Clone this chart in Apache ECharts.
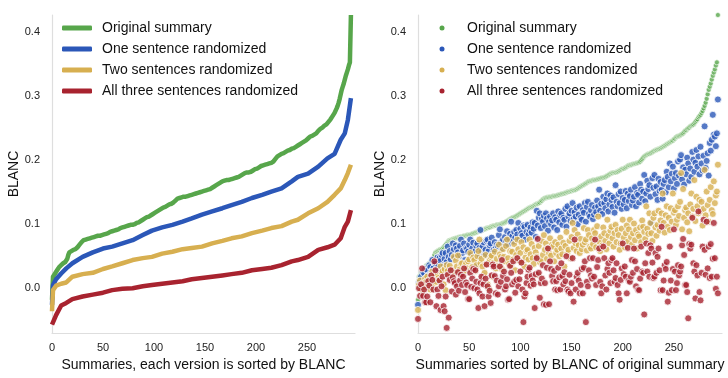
<!DOCTYPE html>
<html>
<head>
<meta charset="utf-8">
<script src="https://cdn.jsdelivr.net/npm/echarts@6.0.0/dist/echarts.min.js"></script>
<style>
  html, body { margin: 0; padding: 0; background: #fff; }
  #chart { width: 728px; height: 378px; }
</style>
</head>
<body>
<div id="chart"></div>
<script>
// series labels (same order in both panels)
const names = ['Original summary', 'One sentence randomized', 'Two sentences randomized', 'All three sentences randomized'];
const colors = ['#57a64b', '#2b57b8', '#d7af50', '#a8232f'];

const xTicks = [0, 50, 100, 150, 200, 250];
const yTicks = [0, 0.1, 0.2, 0.3, 0.4];

// BLANC of the original summaries, already in ascending order (index 0..293)
const original = [
  -0.018, 0.018, 0.020, 0.023, 0.026, 0.028, 0.031, 0.033, 0.035, 0.036,
  0.038, 0.039, 0.040, 0.041, 0.042, 0.046, 0.052, 0.056, 0.057, 0.058,
  0.059, 0.060, 0.061, 0.061, 0.062, 0.064, 0.066, 0.068, 0.070, 0.072,
  0.074, 0.075, 0.075, 0.076, 0.077, 0.077, 0.078, 0.078, 0.079, 0.079,
  0.080, 0.080, 0.081, 0.081, 0.081, 0.082, 0.082, 0.082, 0.083, 0.083,
  0.083, 0.084, 0.084, 0.085, 0.086, 0.086, 0.087, 0.088, 0.088, 0.089,
  0.089, 0.090, 0.091, 0.091, 0.092, 0.092, 0.093, 0.094, 0.094, 0.095,
  0.095, 0.096, 0.097, 0.097, 0.098, 0.098, 0.098, 0.099, 0.099, 0.099,
  0.100, 0.100, 0.101, 0.102, 0.102, 0.103, 0.104, 0.105, 0.106, 0.107,
  0.108, 0.109, 0.110, 0.111, 0.111, 0.112, 0.113, 0.114, 0.115, 0.116,
  0.117, 0.118, 0.119, 0.120, 0.121, 0.122, 0.123, 0.124, 0.125, 0.126,
  0.127, 0.127, 0.128, 0.129, 0.130, 0.131, 0.132, 0.132, 0.133, 0.134,
  0.136, 0.137, 0.139, 0.140, 0.141, 0.141, 0.142, 0.142, 0.142, 0.143,
  0.143, 0.143, 0.144, 0.144, 0.144, 0.145, 0.145, 0.146, 0.146, 0.147,
  0.147, 0.148, 0.148, 0.149, 0.149, 0.150, 0.150, 0.151, 0.151, 0.152,
  0.152, 0.153, 0.153, 0.154, 0.154, 0.155, 0.156, 0.157, 0.158, 0.159,
  0.160, 0.161, 0.162, 0.163, 0.164, 0.165, 0.166, 0.167, 0.167, 0.168,
  0.168, 0.169, 0.169, 0.169, 0.170, 0.170, 0.171, 0.171, 0.172, 0.172,
  0.173, 0.173, 0.174, 0.174, 0.175, 0.176, 0.177, 0.178, 0.179, 0.180,
  0.180, 0.181, 0.181, 0.181, 0.182, 0.182, 0.183, 0.184, 0.185, 0.186,
  0.187, 0.187, 0.188, 0.189, 0.190, 0.191, 0.192, 0.192, 0.193, 0.193,
  0.194, 0.194, 0.195, 0.195, 0.196, 0.196, 0.197, 0.198, 0.200, 0.202,
  0.204, 0.206, 0.207, 0.208, 0.209, 0.210, 0.210, 0.211, 0.212, 0.213,
  0.214, 0.215, 0.216, 0.216, 0.217, 0.218, 0.218, 0.219, 0.220, 0.221,
  0.222, 0.223, 0.224, 0.225, 0.226, 0.227, 0.228, 0.229, 0.230, 0.231,
  0.233, 0.234, 0.236, 0.237, 0.238, 0.238, 0.239, 0.240, 0.241, 0.242,
  0.244, 0.246, 0.247, 0.249, 0.250, 0.251, 0.253, 0.254, 0.255, 0.256,
  0.258, 0.260, 0.262, 0.264, 0.267, 0.269, 0.271, 0.274, 0.277, 0.281,
  0.285, 0.290, 0.296, 0.303, 0.310, 0.315, 0.320, 0.326, 0.332, 0.337,
  0.342, 0.348, 0.353, 0.427
];

// randomized versions, in the order of the original summaries
const oneRandom = [
  -0.026, 0.009, 0.012, 0.018, 0.006, 0.025, 0.023, 0.030, 0.015, 0.028,
  0.020, 0.036, 0.033, 0.026, 0.044, 0.031, 0.040, 0.039, 0.027, 0.048,
  0.035, 0.047, 0.043, 0.052, 0.055, 0.036, 0.046, 0.055, 0.041, 0.065,
  0.049, 0.058, 0.045, 0.052, 0.070, 0.061, 0.048, 0.067, 0.062, 0.056,
  0.050, 0.066, 0.076, 0.055, 0.059, 0.070, 0.044, 0.063, 0.062, 0.057,
  0.068, 0.076, 0.053, 0.062, 0.071, 0.034, 0.058, 0.066, 0.070, 0.049,
  0.063, 0.091, 0.057, 0.065, 0.072, 0.052, 0.060, 0.074, 0.076, 0.058,
  0.067, 0.070, 0.079, 0.055, 0.060, 0.072, 0.064, 0.068, 0.065, 0.083,
  0.092, 0.071, 0.062, 0.076, 0.065, 0.080, 0.074, 0.089, 0.069, 0.078,
  0.085, 0.104, 0.081, 0.073, 0.088, 0.079, 0.091, 0.084, 0.102, 0.076,
  0.093, 0.086, 0.082, 0.098, 0.096, 0.076, 0.088, 0.099, 0.084, 0.091,
  0.095, 0.087, 0.103, 0.093, 0.102, 0.080, 0.121, 0.098, 0.110, 0.117,
  0.094, 0.108, 0.104, 0.113, 0.097, 0.117, 0.109, 0.090, 0.104, 0.112,
  0.100, 0.106, 0.117, 0.095, 0.111, 0.107, 0.091, 0.120, 0.103, 0.114,
  0.117, 0.099, 0.110, 0.107, 0.124, 0.096, 0.128, 0.112, 0.117, 0.105,
  0.121, 0.133, 0.108, 0.119, 0.112, 0.126, 0.100, 0.115, 0.128, 0.110,
  0.107, 0.122, 0.118, 0.133, 0.104, 0.127, 0.135, 0.116, 0.112, 0.122,
  0.130, 0.108, 0.115, 0.126, 0.119, 0.137, 0.128, 0.154, 0.121, 0.132,
  0.116, 0.143, 0.133, 0.125, 0.139, 0.148, 0.120, 0.131, 0.145, 0.138,
  0.127, 0.142, 0.118, 0.161, 0.135, 0.128, 0.147, 0.133, 0.151, 0.124,
  0.141, 0.131, 0.138, 0.152, 0.125, 0.148, 0.136, 0.144, 0.154, 0.130,
  0.137, 0.143, 0.158, 0.128, 0.149, 0.146, 0.134, 0.163, 0.154, 0.140,
  0.151, 0.177, 0.136, 0.148, 0.168, 0.155, 0.161, 0.143, 0.102, 0.172,
  0.157, 0.177, 0.147, 0.159, 0.138, 0.171, 0.152, 0.166, 0.154, 0.140,
  0.163, 0.169, 0.150, 0.182, 0.174, 0.158, 0.195, 0.167, 0.179, 0.190,
  0.156, 0.172, 0.180, 0.163, 0.198, 0.176, 0.201, 0.208, 0.170, 0.189,
  0.162, 0.185, 0.178, 0.204, 0.195, 0.168, 0.187, 0.174, 0.213, 0.201,
  0.182, 0.196, 0.216, 0.190, 0.206, 0.178, 0.221, 0.195, 0.184, 0.207,
  0.253, 0.188, 0.199, 0.211, 0.176, 0.227, 0.215, 0.232, 0.271, 0.240,
  0.237, 0.222, 0.242, 0.295
];

const twoRandom = [
  -0.034, 0.005, 0.012, -0.003, -0.008, 0.008, 0.002, 0.015, 0.010, 0.018,
  0.005, 0.013, -0.002, 0.022, 0.026, 0.008, 0.019, 0.012, 0.010, 0.021,
  0.016, 0.013, 0.034, 0.025, 0.027, 0.006, 0.030, -0.003, 0.036, 0.027,
  0.021, 0.035, 0.018, 0.016, 0.028, 0.049, 0.024, 0.043, 0.034, 0.051,
  0.026, 0.030, 0.038, 0.039, 0.022, 0.027, 0.035, 0.039, 0.031, 0.042,
  0.045, 0.055, 0.029, 0.033, 0.048, 0.044, 0.027, 0.036, 0.050, 0.058,
  0.076, 0.039, 0.046, 0.034, 0.019, 0.024, 0.052, 0.038, 0.006, 0.000,
  0.044, 0.049, 0.051, 0.018, 0.040, 0.057, 0.031, 0.046, 0.035, 0.068,
  0.053, 0.049, 0.030, 0.061, 0.049, 0.042, 0.066, 0.076, 0.047, 0.038,
  0.058, 0.036, 0.057, 0.045, 0.069, 0.028, 0.052, 0.076, 0.061, 0.043,
  0.055, 0.072, 0.040, 0.064, 0.034, 0.048, 0.058, 0.060, 0.045, 0.076,
  0.053, 0.069, 0.047, 0.038, 0.063, 0.056, 0.049, 0.021, 0.066, 0.041,
  0.044, 0.074, 0.052, 0.083, 0.060, 0.070, 0.046, 0.063, 0.055, 0.078,
  0.051, 0.068, 0.065, 0.042, 0.072, 0.055, 0.060, 0.068, 0.050, 0.079,
  0.062, 0.053, 0.071, 0.034, 0.066, 0.088, 0.055, 0.060, 0.074, 0.047,
  0.080, 0.102, 0.063, 0.091, 0.070, 0.058, 0.084, 0.067, 0.055, 0.077,
  0.061, 0.068, 0.094, 0.072, 0.076, 0.059, 0.091, 0.083, 0.065, 0.062,
  0.078, 0.069, 0.091, 0.086, 0.064, 0.097, 0.112, 0.073, 0.058, 0.081,
  0.067, 0.095, 0.086, 0.074, 0.061, 0.107, 0.082, 0.070, 0.090, 0.096,
  0.078, 0.065, 0.086, 0.099, 0.072, 0.091, 0.083, 0.060, 0.070, 0.093,
  0.107, 0.079, 0.064, 0.086, 0.098, 0.073, 0.092, 0.107, 0.080, 0.068,
  0.086, 0.101, 0.075, 0.091, 0.062, 0.084, 0.081, 0.095, 0.072, 0.106,
  0.096, 0.088, 0.077, 0.128, 0.093, 0.085, 0.117, 0.102, 0.086, 0.074,
  0.110, 0.117, 0.095, 0.082, 0.099, 0.121, 0.090, 0.106, 0.117, 0.148,
  0.102, 0.087, 0.114, 0.128, 0.096, 0.110, 0.091, 0.125, 0.104, 0.148,
  0.118, 0.122, 0.099, 0.107, 0.128, 0.113, 0.135, 0.180, 0.092, 0.155,
  0.110, 0.122, 0.126, 0.103, 0.117, 0.089, 0.131, 0.148, 0.112, 0.124,
  0.169, 0.105, 0.143, 0.128, 0.117, 0.138, 0.120, 0.135, 0.098, 0.124,
  0.185, 0.114, 0.151, 0.130, 0.104, 0.138, 0.158, 0.122, 0.116, 0.167,
  0.133, 0.145, 0.151, 0.193
];

const allRandom = [
  -0.048, 0.000, -0.012, 0.006, 0.031, -0.012, -0.002, -0.022, -0.022, -0.013,
  0.011, 0.004, -0.022, 0.020, 0.013, -0.002, 0.042, 0.028, -0.028, -0.002,
  -0.012, 0.012, -0.034, 0.003, 0.018, -0.028, -0.036, -0.013, -0.062, 0.021,
  -0.046, 0.013, 0.028, -0.005, 0.017, 0.011, 0.008, -0.010, 0.003, 0.025,
  -0.004, 0.012, 0.021, 0.005, 0.018, 0.031, -0.006, 0.009, 0.005, -0.017,
  -0.017, 0.024, 0.002, 0.015, 0.030, 0.000, 0.028, 0.010, -0.002, -0.031,
  -0.008, 0.008, 0.018, -0.013, 0.006, -0.028, 0.015, 0.037, 0.003, -0.013,
  -0.004, -0.023, 0.020, 0.037, 0.034, 0.019, -0.008, 0.012, -0.010, 0.003,
  0.034, 0.010, 0.044, 0.019, 0.026, -0.002, 0.003, 0.014, -0.018, -0.017,
  0.035, 0.024, 0.006, 0.042, 0.010, -0.007, 0.013, 0.047, 0.003, 0.014,
  0.026, 0.040, -0.002, -0.053, -0.013, -0.008, 0.008, 0.018, 0.029, 0.032,
  0.004, 0.019, 0.012, 0.006, -0.031, 0.022, 0.047, 0.077, 0.024, -0.015,
  0.008, 0.015, 0.036, -0.025, 0.008, -0.026, 0.032, 0.062, -0.025, 0.042,
  0.030, 0.019, 0.011, 0.027, -0.002, 0.011, -0.003, 0.032, 0.017, -0.002,
  0.039, 0.019, 0.006, 0.025, 0.011, 0.050, -0.002, -0.005, 0.021, -0.008,
  0.008, 0.047, -0.021, 0.076, -0.002, 0.018, 0.024, 0.012, -0.008, 0.005,
  0.030, -0.008, 0.032, 0.042, -0.053, 0.010, 0.003, 0.028, 0.047, 0.020,
  0.015, 0.047, 0.018, 0.076, 0.005, 0.033, 0.044, 0.062, 0.010, -0.008,
  0.003, 0.065, 0.047, 0.020, -0.002, 0.030, 0.039, 0.024, 0.008, 0.044,
  0.047, 0.028, 0.010, 0.016, 0.039, 0.005, -0.008, -0.018, 0.013, 0.031,
  0.070, 0.022, 0.034, 0.018, -0.008, 0.063, 0.012, 0.010, 0.018, 0.044,
  0.024, 0.062, 0.042, 0.003, 0.030, -0.002, -0.003, 0.015, 0.065, 0.026,
  0.024, -0.041, 0.039, 0.070, 0.026, 0.055, 0.018, 0.067, 0.062, 0.040,
  0.016, 0.018, 0.055, 0.024, 0.049, 0.062, 0.028, -0.003, 0.096, -0.003,
  0.012, 0.036, 0.030, 0.041, -0.021, -0.007, 0.065, 0.012, -0.003, 0.030,
  0.092, 0.026, -0.003, 0.008, 0.036, 0.020, 0.026, 0.034, 0.067, 0.077,
  0.052, 0.005, 0.005, -0.006, -0.047, 0.069, 0.062, 0.068, 0.110, 0.039,
  0.026, -0.016, 0.036, 0.020, 0.120, -0.006, -0.019, 0.024, 0.065, 0.107,
  0.060, 0.021, 0.104, 0.031, 0.065, 0.016, 0.069, 0.018, 0.046, 0.102,
  0.047, -0.001, 0.018, -0.008
];

// left panel: each randomized version sorted by BLANC, read at these ranks
const sortedRanks = [0, 1, 4, 9, 14, 20, 30, 40, 50, 59, 69, 79, 89, 98, 108, 118, 128, 137, 147,
  157, 167, 176, 186, 196, 206, 215, 225, 235, 241, 251, 261, 270, 277, 283, 287, 290, 293];
const oneSorted = [-0.026, 0.005, 0.014, 0.023, 0.031, 0.039, 0.049, 0.056, 0.062, 0.065, 0.070, 0.075,
  0.083, 0.090, 0.095, 0.099, 0.104, 0.109, 0.115, 0.120, 0.125, 0.130, 0.135, 0.141, 0.146, 0.151,
  0.156, 0.167, 0.174, 0.179, 0.190, 0.203, 0.210, 0.232, 0.242, 0.263, 0.297];
const twoSorted = [-0.036, -0.003, 0.004, 0.007, 0.009, 0.018, 0.022, 0.024, 0.030, 0.034, 0.039, 0.044,
  0.047, 0.049, 0.054, 0.057, 0.061, 0.063, 0.065, 0.070, 0.074, 0.078, 0.081, 0.086, 0.090, 0.094,
  0.097, 0.104, 0.107, 0.117, 0.125, 0.135, 0.146, 0.156, 0.169, 0.180, 0.193];
const allSorted = [-0.057, -0.054, -0.042, -0.027, -0.023, -0.017, -0.013, -0.010, -0.007, -0.003, -0.001,
  0.000, 0.003, 0.005, 0.007, 0.009, 0.011, 0.014, 0.016, 0.018, 0.020, 0.022, 0.024, 0.028, 0.030,
  0.032, 0.036, 0.042, 0.044, 0.049, 0.060, 0.064, 0.068, 0.078, 0.096, 0.104, 0.122];

const font = 'Liberation Sans, Arial, sans-serif';
const byIndex = arr => arr.map((v, i) => [i, v]);
const byRank = arr => arr.map((v, i) => [sortedRanks[i], v]);

const lineData = [byIndex(original), byRank(oneSorted), byRank(twoSorted), byRank(allSorted)];
const dotData = [byIndex(original), byIndex(oneRandom), byIndex(twoRandom), byIndex(allRandom)];

const xAxisBase = (idx, title) => ({
  type: 'value',
  gridIndex: idx,
  min: 0,
  max: 297,
  name: title,
  nameLocation: 'middle',
  nameGap: 22,
  nameTextStyle: { fontFamily: font, fontSize: 14, color: '#111' },
  axisLine: { show: true, onZero: false, lineStyle: { color: '#dedede', width: 1.2 } },
  axisTick: { show: false },
  splitLine: { show: false },
  axisLabel: { customValues: xTicks, fontFamily: font, fontSize: 11, color: '#222', margin: 9 }
});

const yAxisBase = idx => ({
  type: 'value',
  gridIndex: idx,
  min: -0.07,
  max: 0.427,
  name: 'BLANC',
  nameLocation: 'middle',
  nameGap: 31,
  nameTextStyle: { fontFamily: font, fontSize: 14, color: '#111' },
  axisLine: { show: true, onZero: false, lineStyle: { color: '#dedede', width: 1.2 } },
  axisTick: { show: false },
  splitLine: { show: false },
  axisLabel: {
    customValues: yTicks, fontFamily: font, fontSize: 11, color: '#222', margin: 12,
    formatter: v => v.toFixed(1)
  }
});

const legendText = { fontFamily: font, fontSize: 14, color: '#111', lineHeight: 16, padding: [0, 0, 0, 5] };

const option = {
  animation: false,
  backgroundColor: '#fff',
  grid: [
    { left: 52, top: 15, width: 303, height: 318 },
    { left: 418, top: 15, width: 304, height: 318 }
  ],
  xAxis: [
    xAxisBase(0, 'Summaries, each version is sorted by BLANC'),
    xAxisBase(1, 'Summaries sorted by BLANC of original summary')
  ],
  yAxis: [yAxisBase(0), yAxisBase(1)],
  legend: [
    {
      data: names, orient: 'vertical', left: 62, top: 20, padding: 0, itemGap: 5,
      itemWidth: 30, itemHeight: 5, icon: 'roundRect', selectedMode: false,
      itemStyle: { borderWidth: 0 }, textStyle: legendText
    },
    {
      // the box is placed by the dot's left edge, so this puts the dots at x≈442
      data: names, orient: 'vertical', left: 439.5, top: 20, padding: 0, itemGap: 5,
      itemWidth: 30, itemHeight: 5, icon: 'circle', selectedMode: false,
      itemStyle: { borderWidth: 0 }, textStyle: legendText
    }
  ],
  series: [
    ...names.map((n, i) => ({
      name: n,
      type: 'line',
      xAxisIndex: 0,
      yAxisIndex: 0,
      data: lineData[i],
      symbol: 'none',
      color: colors[i],
      lineStyle: { width: 4.5, color: colors[i], join: 'round' }
    })),
    ...names.map((n, i) => ({
      name: n,
      type: 'scatter',
      xAxisIndex: 1,
      yAxisIndex: 1,
      data: dotData[i],
      clip: false,
      symbolSize: i === 0 ? 5 : 7,
      color: colors[i],
      itemStyle: { color: colors[i], borderColor: '#fff', borderWidth: i === 0 ? 0.8 : 1 }
    }))
  ]
};

const chart = echarts.init(document.getElementById('chart'), null, { renderer: 'canvas' });
chart.setOption(option);
</script>
</body>
</html>
